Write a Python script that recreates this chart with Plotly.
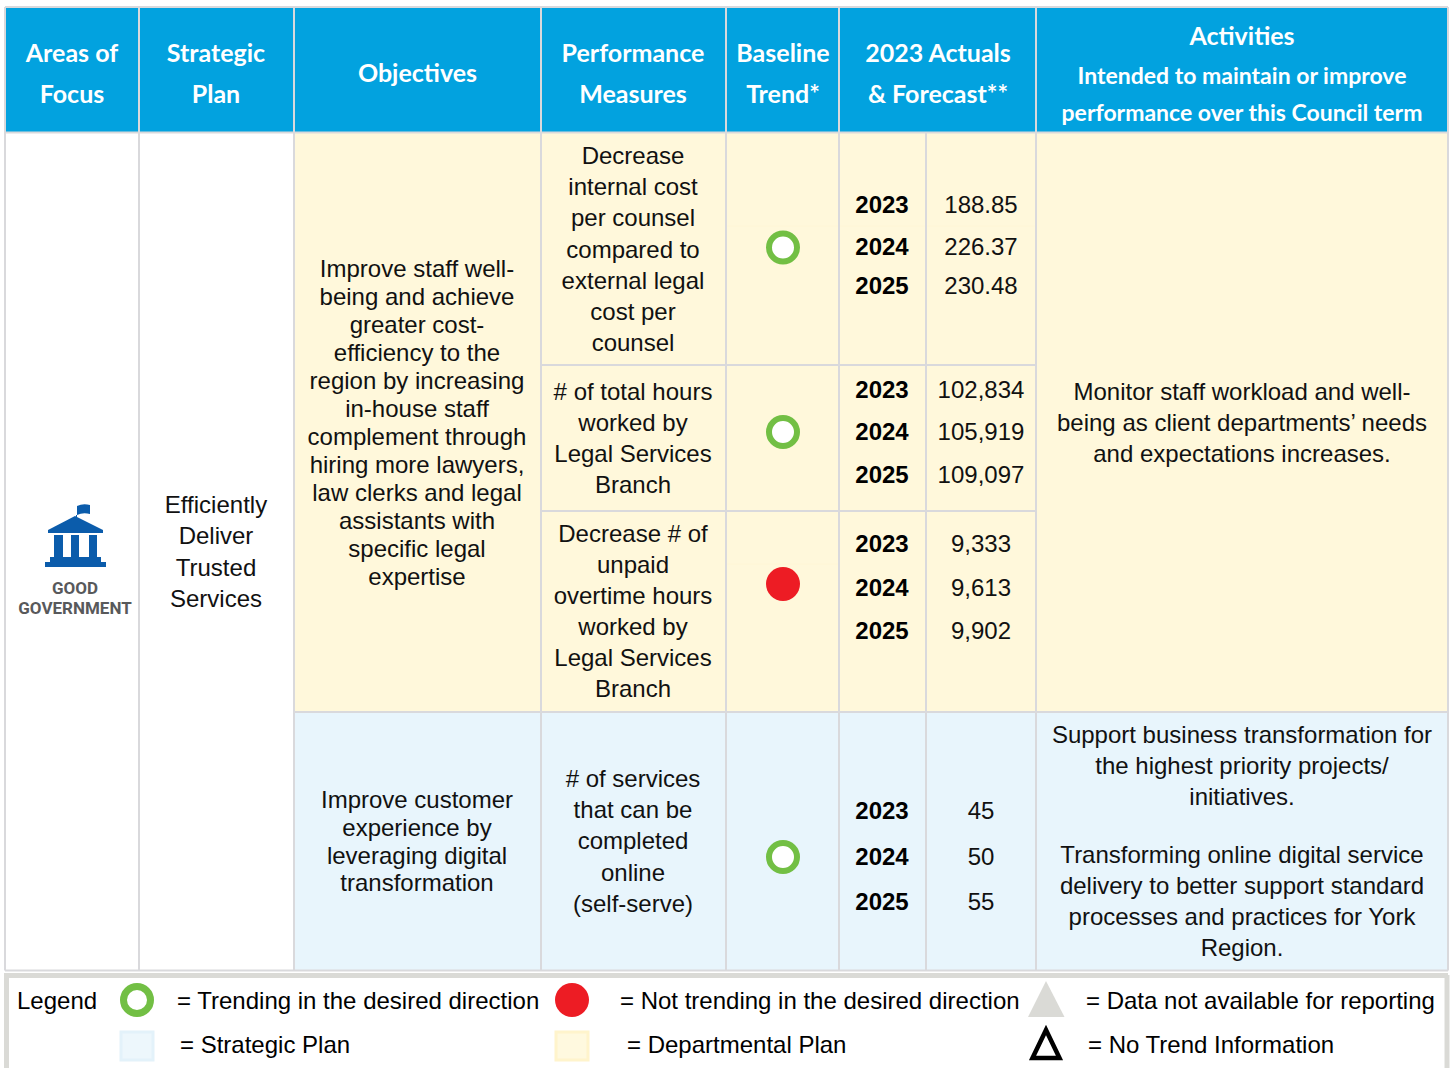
import plotly.graph_objects as go

# ---------- content ----------
headers = [
    ["Areas of", "Focus"], ["Strategic", "Plan"], ["Objectives"], ["Performance", "Measures"],
    ["Baseline", "Trend*"], ["2023 Actuals", "& Forecast**"],
    ["Activities", "Intended to maintain or improve", "performance over this Council term"],
]
strategic_plan = ["Efficiently", "Deliver", "Trusted", "Services"]
objective_1 = ["Improve staff well-", "being and achieve", "greater cost-", "efficiency to the",
               "region by increasing", "in-house staff", "complement through", "hiring more lawyers,",
               "law clerks and legal", "assistants with", "specific legal", "expertise"]
objective_2 = ["Improve customer", "experience by", "leveraging digital", "transformation"]
measures = [
    ["Decrease", "internal cost", "per counsel", "compared to", "external legal", "cost per", "counsel"],
    ["# of total hours", "worked by", "Legal Services", "Branch"],
    ["Decrease # of", "unpaid", "overtime hours", "worked by", "Legal Services", "Branch"],
    ["# of services", "that can be", "completed", "online", "(self-serve)"],
]
years = ["2023", "2024", "2025"]
actuals = [
    ["188.85", "226.37", "230.48"],
    ["102,834", "105,919", "109,097"],
    ["9,333", "9,613", "9,902"],
    ["45", "50", "55"],
]
trend = ["good", "good", "bad", "good"]
activity_1 = ["Monitor staff workload and well-", "being as client departments\u2019 needs", "and expectations increases."]
activity_2a = ["Support business transformation for", "the highest priority projects/", "initiatives."]
activity_2b = ["Transforming online digital service", "delivery to better support standard",
               "processes and practices for York", "Region."]
legend_row1 = ["= Trending in the desired direction", "= Not trending in the desired direction", "= Data not available for reporting"]
legend_row2 = ["= Strategic Plan", "= Departmental Plan", "= No Trend Information"]

# ---------- layout (pixels) and styles ----------
W, H = 1450, 1068
HEAD, YEL, BLU, GRID, BORDER = "#02A2DF", "#FFF8DB", "#E8F5FC", "#D9D9DC", "#DADAD6"
GREEN, RED, ICON = "#72BF44", "#ED1C24", "#0B5CAB"
BODY = "Liberation Sans"
HEADF = "Lato"
ICONF = "Roboto"
col = [5, 139, 294, 541, 726, 839, 1036, 1448]
col_mid = 926
top, head_bot, body_bot = 8, 132.5, 970.5
row_lines = [365, 511, 712]
head_cy = [[53, 94], [53, 94], [73], [53, 94], [53, 94], [53, 94], [36, 75, 112]]
head_cx = [72, 216, 417.5, 633, 783, 938, 1242]
measure_start = [156, 392, 534, 779]
measure_step = [31.2, 31, 31, 31.2]
actual_y = [[205, 247, 286], [390, 432, 475], [544, 588, 631], [811, 857, 902]]
trend_y = [247.5, 432, 584, 857]
TEXT_DY = 2
HEAD_DY = 3

fig = go.Figure()
shapes = []


def rect(x0, y0, x1, y1, fill, line=None, lw=0):
    shapes.append(dict(type="rect", x0=x0, y0=y0, x1=x1, y1=y1, fillcolor=fill, layer="below",
                       line=dict(color=line or fill, width=lw)))


def seg(x0, y0, x1, y1, color=GRID, w=2):
    shapes.append(dict(type="line", x0=x0, y0=y0, x1=x1, y1=y1, layer="below", line=dict(color=color, width=w)))


def path(d, fill, line=None, lw=0):
    shapes.append(dict(type="path", path=d, fillcolor=fill, layer="below", line=dict(color=line or fill, width=lw)))


def text(xs, ys, strs, size=24, color="#111111", family=BODY, weight="normal", pos="middle center", dy=TEXT_DY):
    fig.add_trace(go.Scatter(x=xs, y=[y + dy for y in ys], text=strs, mode="text", textposition=pos, cliponaxis=False,
                             hoverinfo="skip", showlegend=False,
                             textfont=dict(size=size, color=color, family=family, weight=weight)))


def block(x, start, step, lines, **kw):
    text([x] * len(lines), [start + i * step for i in range(len(lines))], lines, **kw)


# backgrounds
rect(col[0], top, col[-1], head_bot, HEAD)
rect(col[2], head_bot, col[-1], row_lines[2], YEL)
rect(col[2], row_lines[2], col[-1], body_bot, BLU)
# faint seams in the yellow panel
seg(col[4], 226, col[6], 226, "#FFF6D6", 1)
seg(col[4], 564, col[5], 564, "#FFF6D6", 1)
# grid
seg(col[0], 7, col[-1], 7)
seg(col[0], head_bot, col[-1], head_bot)
seg(col[0], body_bot, col[-1], body_bot)
for x in col:
    seg(x, 7, x, body_bot)
seg(col_mid, head_bot, col_mid, body_bot)
for y in row_lines[:2]:
    seg(col[3], y, col[6], y)
seg(col[2], row_lines[2], col[-1], row_lines[2])

# legend panel
seg(4, 975.5, 1448, 975.5, BORDER, 5)
seg(6.5, 975, 6.5, 1068, BORDER, 5)
seg(1447, 975, 1447, 1068, BORDER, 5)
rect(121, 1032, 153, 1060, "#EDF7FC", "#E3F2FA", 3)
rect(556, 1032, 588, 1060, "#FFF9DF", "#FFF4CC", 3)
path("M 1028 1017 L 1046 981 L 1064.5 1017 Z", BORDER)
path("M 1032.5 1058 L 1046 1030 L 1059.5 1058 Z", "#FFFFFF", "#000000", 4.5)

# icon
path("M 76 504 L 76 517 L 77 517 L 77 506 Q 83 503 90 505 L 90 514 Q 83 512 77 515 L 76 515 Z", ICON)
path("M 75 516 L 103 530 L 103 533 L 48 533 L 48 530 Z", ICON)
for a, b in [(54, 63), (71, 79), (89, 97)]:
    rect(a, 535, b, 557, ICON)
rect(50, 557, 101, 562, ICON)
rect(45, 562, 106, 567, ICON)
text([75], [588], ["GOOD"], size=17, color="#58595B", family=ICONF, weight="bold")
text([75], [608], ["GOVERNMENT"], size=17, color="#58595B", family=ICONF, weight="bold")

# header text
for cx, ys, lines in zip(head_cx, head_cy, headers):
    for i, (y, s) in enumerate(zip(ys, lines)):
        size = 25
        if cx == head_cx[-1] and i > 0:
            size = 23
        text([cx], [y], [s], size=size, color="#FFFFFF", family=HEADF, weight="bold", dy=HEAD_DY)

# body text
block(216, 505, 31.3, strategic_plan)
block(417, 269, 28, objective_1)
block(417, 800, 27.8, objective_2)
for start, step, lines in zip(measure_start, measure_step, measures):
    block(633, start, step, lines)
for ys, vals in zip(actual_y, actuals):
    text([882] * 3, ys, years, weight="bold", color="#000000")
    text([981] * 3, ys, vals)
block(1242, 392, 31, activity_1)
block(1242, 735, 31, activity_2a)
block(1242, 855, 31, activity_2b)

# trend markers
good = [i for i, t in enumerate(trend) if t == "good"]
bad = [i for i, t in enumerate(trend) if t == "bad"]
fig.add_trace(go.Scatter(x=[783] * len(good), y=[trend_y[i] for i in good], mode="markers", hoverinfo="skip",
                         showlegend=False, marker=dict(size=28, color="#FFFFFF", line=dict(color=GREEN, width=6))))
fig.add_trace(go.Scatter(x=[783] * len(bad), y=[trend_y[i] for i in bad], mode="markers", hoverinfo="skip",
                         showlegend=False, marker=dict(size=34, color=RED)))
# legend markers
fig.add_trace(go.Scatter(x=[137], y=[1000], mode="markers", hoverinfo="skip", showlegend=False,
                         marker=dict(size=27, color="#FFFFFF", line=dict(color=GREEN, width=7))))
fig.add_trace(go.Scatter(x=[572], y=[1000], mode="markers", hoverinfo="skip", showlegend=False,
                         marker=dict(size=34, color=RED)))

# legend text
text([17], [1001], ["Legend"], pos="middle right", color="#000000")
text([177, 620, 1086], [1001] * 3, legend_row1, pos="middle right", color="#000000")
text([180, 627, 1088], [1045] * 3, legend_row2, pos="middle right", color="#000000")

fig.update_layout(
    width=W, height=H, margin=dict(l=0, r=0, t=0, b=0), showlegend=False,
    paper_bgcolor="#FFFFFF", plot_bgcolor="#FFFFFF", shapes=shapes,
    xaxis=dict(range=[0, W], visible=False, fixedrange=True),
    yaxis=dict(range=[H, 0], visible=False, fixedrange=True),
)
fig.write_html("out.html", config={"displayModeBar": False},
               post_script="document.body.style.margin='0';document.documentElement.style.overflow='hidden';")
